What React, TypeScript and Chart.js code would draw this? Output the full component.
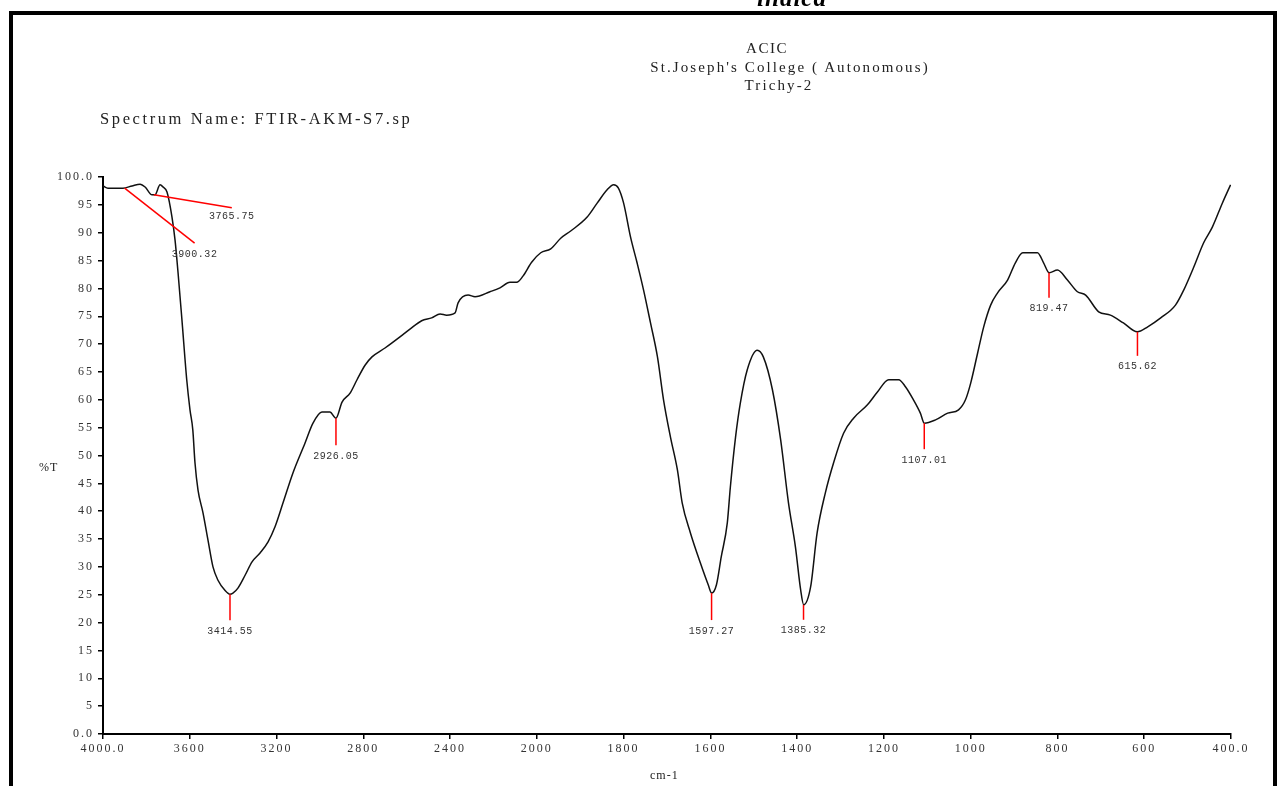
import React, { useEffect, useRef } from "react";
import { Chart, registerables, LinearScale } from "chart.js";

// ---- data ----
const WAVENUMBERS = [
  4000, 3977, 3908, 3866, 3829, 3806, 3774, 3760, 3737, 3723, 3705, 3682, 3668, 3654, 3636, 3614,
  3599, 3586, 3576, 3562, 3539, 3516, 3493, 3470, 3438, 3415, 3401, 3378, 3345, 3313, 3276, 3239,
  3207, 3170, 3124, 3069, 3032, 2991, 2954, 2926, 2898, 2861, 2829, 2792, 2760, 2700, 2631, 2585,
  2531, 2485, 2446, 2416, 2377, 2363, 2317, 2285, 2216, 2170, 2124, 2093, 2064, 2024, 1991, 1968,
  1945, 1922, 1884, 1861, 1838, 1823, 1812, 1800, 1784, 1769, 1754, 1738, 1722, 1708, 1692, 1676,
  1665, 1646, 1623, 1605, 1597, 1586, 1575, 1561, 1554, 1542, 1531, 1515, 1492, 1478, 1457, 1438,
  1420, 1404, 1392, 1385, 1369, 1354, 1335, 1316, 1293, 1270, 1238, 1215, 1189, 1166, 1150, 1132,
  1116, 1107, 1081, 1053, 1028, 1012, 1000, 984, 970, 954, 938, 915, 897, 880, 846, 832,
  819, 800, 777, 754, 735, 705, 678, 648, 616, 592, 562, 528, 509, 486, 463, 443,
  420, 401,
];
const TRANSMITTANCE = [
  98.4, 98.0, 98.0, 98.4, 98.7, 98.2, 96.8, 96.8, 98.6, 98.2, 97.3, 92.8, 88.7, 82.8, 74.3, 63.6,
  58.2, 54.6, 48.7, 43.8, 39.7, 34.8, 30.0, 27.6, 25.8, 25.1, 25.3, 26.2, 28.5, 30.9, 32.5, 34.5,
  37.2, 41.5, 46.9, 52.2, 55.8, 57.8, 57.8, 56.7, 59.6, 61.2, 63.6, 66.2, 67.7, 69.3, 71.3, 72.7,
  74.2, 74.7, 75.4, 75.2, 75.6, 77.4, 78.8, 78.5, 79.4, 80.1, 81.1, 81.1, 82.2, 84.7, 86.4, 87.1,
  89.0, 90.3, 92.8, 95.3, 97.7, 98.6, 98.0, 95.3, 89.2, 84.6, 79.7, 73.8, 67.7, 60.0, 53.3, 47.4,
  41.5, 36.1, 30.7, 26.8, 25.3, 26.8, 31.8, 37.9, 44.3, 53.3, 59.4, 65.4, 68.9, 67.7, 61.8, 52.8,
  41.5, 33.6, 25.9, 23.2, 26.4, 36.1, 43.3, 48.7, 54.0, 56.7, 59.1, 61.4, 63.6, 63.6, 62.3, 60.0,
  57.6, 55.8, 56.4, 57.6, 58.2, 60.0, 63.0, 68.4, 73.1, 77.0, 79.2, 81.5, 84.6, 86.4, 86.4, 84.6,
  82.8, 83.3, 81.5, 79.4, 78.8, 75.8, 75.2, 73.8, 72.2, 73.1, 74.7, 77.0, 79.7, 83.8, 88.2, 91.0,
  95.3, 98.6,
];

const PEAK_WN = [3900.32, 3765.75, 3414.55, 2926.05, 1597.27, 1385.32, 1107.01, 819.47, 615.62];
const PEAK_T = [98.0, 96.8, 25.1, 56.7, 25.3, 23.2, 55.8, 82.8, 72.2];
const PEAK_LABELS = ["3900.32", "3765.75", "3414.55", "2926.05", "1597.27", "1385.32", "1107.01", "819.47", "615.62"];

const X_TICKS = [4000, 3600, 3200, 2800, 2400, 2000, 1800, 1600, 1400, 1200, 1000, 800, 600, 400];
const X_TICK_LABELS = ["4000.0", "3600", "3200", "2800", "2400", "2000", "1800", "1600", "1400", "1200", "1000", "800", "600", "400.0"];
const Y_TICK_LABELS = ["0.0", "5", "10", "15", "20", "25", "30", "35", "40", "45", "50", "55", "60", "65", "70", "75", "80", "85", "90", "95", "100.0"];

// ---- piecewise wavenumber scale (equal spacing between ticks, as in FTIR plots) ----
function wnToFrac(v: number): number {
  const n = X_TICKS.length - 1;
  for (let i = 0; i < n; i++) {
    const a = X_TICKS[i];
    const b = X_TICKS[i + 1];
    if (v <= a && v >= b) return (i + (a - v) / (a - b)) / n;
  }
  if (v > X_TICKS[0]) return ((X_TICKS[0] - v) / (X_TICKS[0] - X_TICKS[1])) / n;
  const a = X_TICKS[n - 1];
  const b = X_TICKS[n];
  return (n - 1 + (a - v) / (a - b)) / n;
}
function fracToWn(f: number): number {
  const n = X_TICKS.length - 1;
  let i = Math.floor(f * n);
  if (i < 0) i = 0;
  if (i > n - 1) i = n - 1;
  const a = X_TICKS[i];
  const b = X_TICKS[i + 1];
  return a - (f * n - i) * (a - b);
}

class FtirScale extends LinearScale {
  static id = "ftir";
  static defaults = {};
  buildTicks() {
    return X_TICKS.map((v) => ({ value: v }));
  }
  getPixelForValue(value: number) {
    if (value === null || value === undefined) return NaN;
    return this.left + wnToFrac(value) * this.width;
  }
  getValueForPixel(pixel: number) {
    return fracToWn((pixel - this.left) / this.width);
  }
}

Chart.register(...registerables, FtirScale as any);

const peakPlugin = {
  id: "peakLabels",
  beforeDraw(chart: any) {
    chart.ctx.letterSpacing = "2px";
  },
  afterDatasetsDraw(chart: any) {
    const ctx = chart.ctx;
    const xs = chart.scales.x;
    const ys = chart.scales.y;
    const stemLen = [0, 0, 26, 27, 27, 15, 26, 25, 24];
    ctx.save();
    ctx.letterSpacing = "0.5px";
    ctx.strokeStyle = "#ff0000";
    ctx.lineWidth = 1.5;
    ctx.fillStyle = "#333";
    ctx.font = '10px "Liberation Mono"';
    ctx.textAlign = "center";
    ctx.textBaseline = "middle";
    PEAK_WN.forEach((wn, i) => {
      const px = xs.getPixelForValue(wn);
      const py = ys.getPixelForValue(PEAK_T[i]);
      let ex = px;
      let ey = py + stemLen[i];
      let lx = px;
      let ly = ey + 11;
      if (i === 0) {
        ex = px + 70; ey = py + 55; lx = px + 70; ly = py + 66;
      } else if (i === 1) {
        ex = px + 78; ey = py + 13; lx = px + 78; ly = py + 22;
      }
      ctx.beginPath();
      ctx.moveTo(px, py);
      ctx.lineTo(ex, ey);
      ctx.stroke();
      ctx.fillText(PEAK_LABELS[i], lx, ly);
    });
    ctx.restore();
  },
};

export default function App() {
  const ref = useRef<HTMLCanvasElement | null>(null);
  useEffect(() => {
    if (!ref.current) return;
    const chart = new Chart(ref.current, {
      type: "line",
      data: {
        datasets: [
          {
            data: WAVENUMBERS.map((x, i) => ({ x, y: TRANSMITTANCE[i] })),
            borderColor: "#111",
            borderWidth: 1.5,
            pointRadius: 0,
            cubicInterpolationMode: "monotone",
            fill: false,
          },
        ],
      },
      options: {
        responsive: false,
        animation: false,
        devicePixelRatio: 1,
        layout: { padding: { left: 0, top: 177, right: 46, bottom: 22 } },
        plugins: { legend: { display: false }, tooltip: { enabled: false }, title: { display: false } },
        scales: {
          x: {
            type: "ftir" as any,
            min: 400,
            max: 4000,
            afterFit: (s: any) => {
              s.height = 30;
            },
            grid: { display: true, drawOnChartArea: false, drawTicks: true, tickLength: 5, color: "#000", lineWidth: 1.5 },
            border: { display: true, color: "#000", width: 2 },
            ticks: {
              autoSkip: false,
              maxRotation: 0,
              minRotation: 0,
              padding: 3,
              color: "#333",
              font: { family: "Liberation Serif", size: 12 },
              callback: (_v: any, idx: number) => X_TICK_LABELS[idx],
            },
          },
          y: {
            type: "linear",
            min: 0,
            max: 100,
            afterFit: (s: any) => {
              s.width = 103;
            },
            grid: { display: true, drawOnChartArea: false, drawTicks: true, tickLength: 5, color: "#000", lineWidth: 1.5 },
            border: { display: true, color: "#000", width: 2 },
            ticks: {
              stepSize: 5,
              autoSkip: false,
              padding: 4,
              color: "#333",
              font: { family: "Liberation Serif", size: 12 },
              callback: (_v: any, idx: number) => Y_TICK_LABELS[idx],
            },
          },
        },
      } as any,
      plugins: [peakPlugin],
    });
    return () => chart.destroy();
  }, []);

  const txt: React.CSSProperties = {
    position: "absolute",
    fontFamily: '"Liberation Serif", serif',
    color: "#222",
    whiteSpace: "pre",
    lineHeight: 1,
  };

  return (
    <div style={{ position: "fixed", left: 0, top: 0, width: 1277, height: 786, background: "#fff", overflow: "hidden" }}>
      <canvas ref={ref} width={1277} height={786} style={{ position: "absolute", left: 0, top: 0, display: "block" }} />
      <div
        style={{
          position: "absolute",
          left: 9,
          top: 11,
          width: 1268,
          height: 820,
          boxSizing: "border-box",
          border: "4px solid #000",
          pointerEvents: "none",
        }}
      />
      <div style={{ ...txt, left: 792, top: -15, transform: "translateX(-50%)", fontSize: 25, fontWeight: "bold", fontStyle: "italic", color: "#000", letterSpacing: 1 }}>indica</div>
      <div style={{ ...txt, left: 767, top: 41, transform: "translateX(-50%)", fontSize: 15, letterSpacing: 1.5 }}>ACIC</div>
      <div style={{ ...txt, left: 790, top: 60, transform: "translateX(-50%)", fontSize: 15, letterSpacing: 2.1 }}>St.Joseph's College ( Autonomous)</div>
      <div style={{ ...txt, left: 779, top: 78, transform: "translateX(-50%)", fontSize: 15, letterSpacing: 2.1 }}>Trichy-2</div>
      <div style={{ ...txt, left: 100, top: 111, fontSize: 16.5, letterSpacing: 2.6 }}>Spectrum Name: FTIR-AKM-S7.sp</div>
      <div style={{ ...txt, left: 39, top: 461, fontSize: 12, letterSpacing: 1 }}>%T</div>
      <div style={{ ...txt, left: 650, top: 769, fontSize: 12, letterSpacing: 1 }}>cm-1</div>
    </div>
  );
}
